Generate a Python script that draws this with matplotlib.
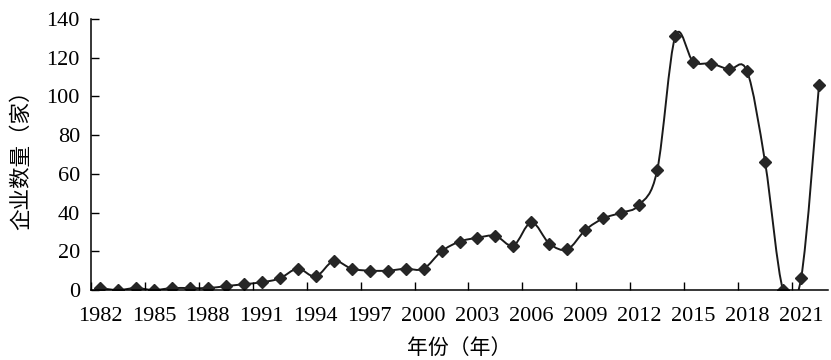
import matplotlib.pyplot as plt
import numpy as np
from matplotlib.path import Path
from matplotlib.patches import PathPatch

# years and number of firms
years = list(range(1982, 2023))
counts = [1, 0, 1, 0, 1, 1, 1, 2, 3, 4,
          6, 11, 7, 15, 11, 10, 10, 11, 11, 20,
          25, 27, 28, 23, 35, 24, 21, 31, 37, 40,
          44, 62, 131, 118, 117, 114, 113, 66, 0, 6,
          106]
tick_years = [str(y) for y in years[::3]]

plt.rcParams['font.family'] = ['Liberation Serif', 'Noto Sans CJK SC']

fig = plt.figure(figsize=(8.31, 3.6), dpi=100)
ax = fig.add_axes([0.1095, 0.1944, 0.8869, 0.7526])

x = np.arange(len(years), dtype=float)
y = np.array(counts, dtype=float)

# smoothed line (bezier segments through the points, like a spreadsheet "smooth line")
xp = np.concatenate([[x[0]], x, [x[-1]]])
yp = np.concatenate([[y[0]], y, [y[-1]]])
verts = [(x[0], y[0])]
codes = [Path.MOVETO]
for i in range(len(x) - 1):
    j = i + 1
    c1 = (x[i] + (xp[j + 1] - xp[j - 1]) / 6, y[i] + (yp[j + 1] - yp[j - 1]) / 6)
    c2 = (x[i + 1] - (xp[j + 2] - xp[j]) / 6, y[i + 1] - (yp[j + 2] - yp[j]) / 6)
    verts += [c1, c2, (x[i + 1], y[i + 1])]
    codes += [Path.CURVE4] * 3
ax.add_patch(PathPatch(Path(verts, codes), facecolor='none', edgecolor='#1a1a1a', lw=1.4))

ax.plot(x, y, linestyle='none', marker='D', markersize=6.5, color='#262626')

ax.set_xlim(-0.5, len(years) - 0.5)
ax.set_ylim(0, 140)
ax.set_yticks(range(0, 141, 20))

ax.set_xticks(x[::3])
ax.set_xticklabels(tick_years, fontsize=16)
ax.set_xticks(np.arange(-0.5, len(years) - 0.5, 3), minor=True)
ax.tick_params(axis='x', which='major', length=0, pad=12)
ax.tick_params(axis='x', which='minor', direction='in', length=6, width=1)
ax.tick_params(axis='y', direction='in', length=6, width=1, labelsize=16, pad=8)

for s in ['top', 'right']:
    ax.spines[s].set_visible(False)
for s in ['left', 'bottom']:
    ax.spines[s].set_linewidth(1.1)

ax.set_xlabel('年份（年）', fontsize=15, family=['Noto Sans CJK SC'], labelpad=8)
ax.set_ylabel('企业数量（家）', fontsize=15.5, family=['Noto Sans CJK SC'], labelpad=10)

plt.savefig('out.png', dpi=100)
